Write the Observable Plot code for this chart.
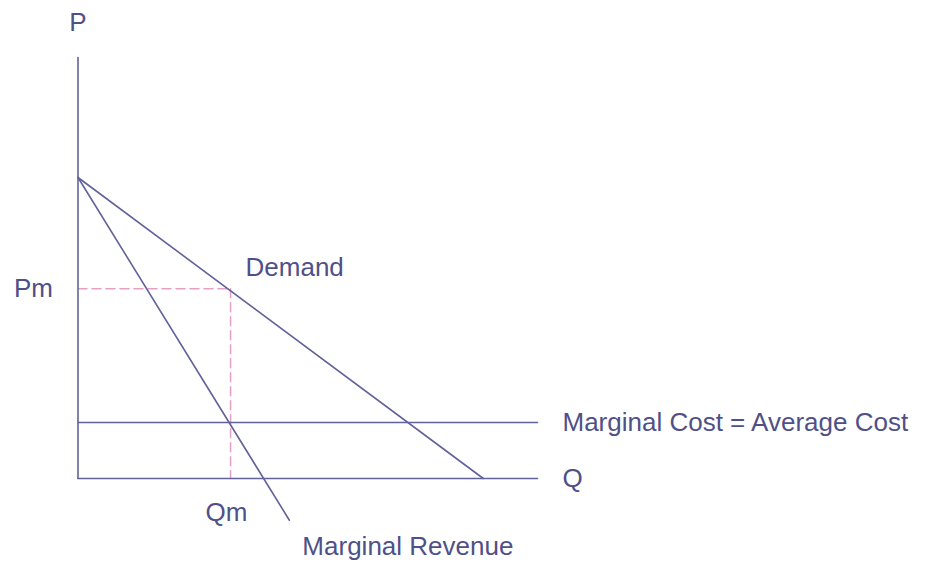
<!DOCTYPE html>
<html>
<head>
<meta charset="utf-8">
<script src="https://cdn.jsdelivr.net/npm/d3@7"></script>
<script src="https://cdn.jsdelivr.net/npm/@observablehq/plot@0.6"></script>
<style>
  html, body { margin: 0; padding: 0; background: #ffffff; }
  #chart svg { display: block; }
</style>
</head>
<body>
<div id="chart"></div>
<script>
// Model values (in chart units: Q 0–100, P 0–100)
const axisMax = 100;
const demandP0 = 71.5;      // price intercept of demand
const demandQ0 = 88.2;      // quantity intercept of demand
const mrQ0 = 40.4;          // quantity intercept of marginal revenue
const mrEndQ = 46;          // marginal revenue drawn to this Q (below axis)
const mcValue = 13.3;       // marginal cost = average cost
const Qm = 33.2;
const Pm = 45.1;

const axisY = [{q: 0, p: 0}, {q: 0, p: axisMax}];
const axisX = [{q: 0, p: 0}, {q: axisMax, p: 0}];
const demand = [{q: 0, p: demandP0}, {q: demandQ0, p: 0}];
const mr = [{q: 0, p: demandP0}, {q: mrEndQ, p: demandP0 * (1 - mrEndQ / mrQ0)}];
const mc = [{q: 0, p: mcValue}, {q: axisMax, p: mcValue}];
const pmGuide = [{q: 0, p: Pm}, {q: Qm, p: Pm}];
const qmGuide = [{q: Qm, p: Pm}, {q: Qm, p: 0}];

const lineColor = "#62629a";
const textColor = "#505088";
const dashColor = "#e6a0c6";
const font = "'Liberation Sans', Arial, sans-serif";
const fs = 26;

const textOpts = {fill: textColor, fontSize: fs, fontFamily: font, stroke: null};

const chart = Plot.plot({
  width: 926,
  height: 563,
  marginLeft: 77.5,
  marginRight: 389,
  marginTop: 57,
  marginBottom: 85,
  x: {domain: [0, axisMax], axis: null},
  y: {domain: [0, axisMax], axis: null},
  style: {fontFamily: font, background: "#ffffff", overflow: "visible"},
  marks: [
    Plot.line(pmGuide, {x: "q", y: "p", stroke: dashColor, strokeWidth: 1.5, strokeDasharray: "9,5"}),
    Plot.line(qmGuide, {x: "q", y: "p", stroke: dashColor, strokeWidth: 1.5, strokeDasharray: "9,5"}),
    Plot.line(axisY, {x: "q", y: "p", stroke: lineColor, strokeWidth: 1.6}),
    Plot.line(axisX, {x: "q", y: "p", stroke: lineColor, strokeWidth: 1.6}),
    Plot.line(mc, {x: "q", y: "p", stroke: lineColor, strokeWidth: 1.6}),
    Plot.line(demand, {x: "q", y: "p", stroke: lineColor, strokeWidth: 1.6}),
    Plot.line(mr, {x: "q", y: "p", stroke: lineColor, strokeWidth: 1.6}),
    Plot.text(["P"], {x: 0, y: axisMax, dy: -35, textAnchor: "middle", ...textOpts}),
    Plot.text(["Q"], {x: axisMax, y: 0, dx: 25, textAnchor: "start", ...textOpts}),
    Plot.text(["Pm"], {x: 0, y: Pm, dx: -25, textAnchor: "end", ...textOpts}),
    Plot.text(["Qm"], {x: Qm, y: 0, dx: -4, dy: 34, textAnchor: "middle", ...textOpts}),
    Plot.text(["Demand"], {x: Qm, y: Pm, dx: 15, dy: -21, textAnchor: "start", ...textOpts}),
    Plot.text(["Marginal Cost = Average Cost"], {x: axisMax, y: mcValue, dx: 25, textAnchor: "start", ...textOpts}),
    Plot.text(["Marginal Revenue"], {x: mrEndQ, y: demandP0 * (1 - mrEndQ / mrQ0), dx: 13, dy: 26, textAnchor: "start", ...textOpts})
  ]
});
document.getElementById("chart").appendChild(chart);
</script>
</body>
</html>
